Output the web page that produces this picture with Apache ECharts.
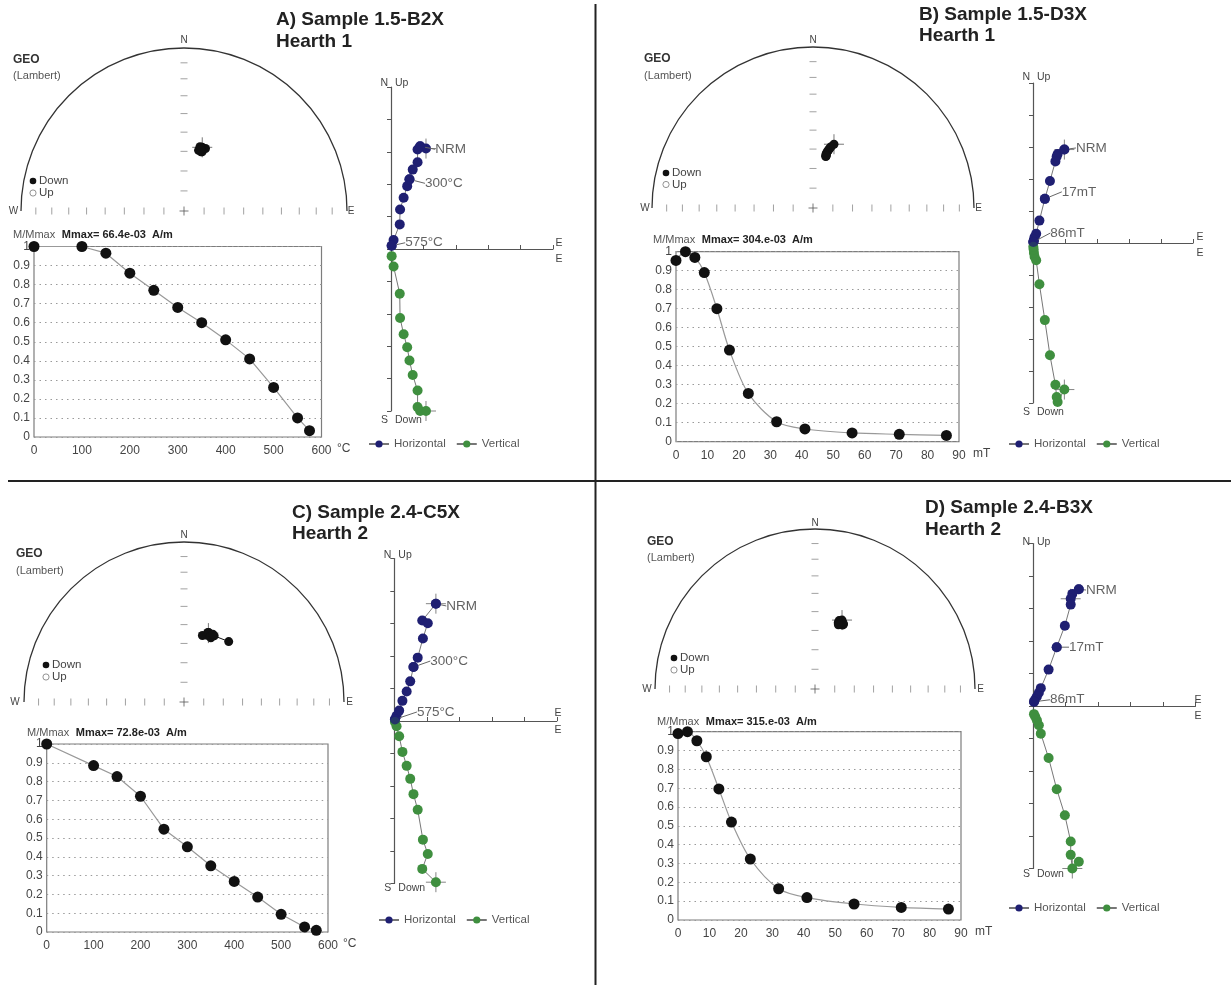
<!DOCTYPE html>
<html><head><meta charset="utf-8">
<script src="https://cdn.jsdelivr.net/npm/echarts@6/dist/echarts.min.js"></script>
<style>html,body{margin:0;padding:0;background:#fff}#c{width:1231px;height:985px}</style>
</head><body><div id="c"></div>
<script>
// ---------------- DATA ----------------
// Panel A: Sample 1.5-B2X (thermal)
const A_STEPS = [0,100,150,200,250,300,350,400,450,500,550,575];
const A_MMAX  = [1.0,1.0,0.965,0.86,0.77,0.68,0.60,0.51,0.41,0.26,0.10,0.033];
const A_EAST  = [0.90,1.08,0.82,0.82,0.67,0.57,0.50,0.39,0.28,0.27,0.08,0.02];
const A_NORTH = [3.17,3.10,3.07,2.68,2.45,2.15,1.94,1.58,1.22,0.76,0.28,0.10];
const A_UP    = [-5.0,-5.0,-4.88,-4.37,-3.89,-3.44,-3.03,-2.63,-2.13,-1.38,-0.54,-0.22];
const A_DEC   = [16,19,15,17,15.5,15,14,14,13.5,17,16,15];
const A_INC   = [56.6,56.7,56.9,57.4,57,57.2,56.6,58.2,58.6,58.8,59,58];
const A_LABELS = ['NRM','300°C','575°C'];
const A_LABEL_STEPS = [0,300,575];
const A_MMAX_TEXT = 'Mmax= 66.4e-03  A/m';

// Panel B: Sample 1.5-D3X (AF)
const B_STEPS = [0,3,6,9,13,17,23,32,41,56,71,86];
const B_MMAX  = [0.954,1.0,0.97,0.89,0.70,0.482,0.254,0.105,0.067,0.046,0.039,0.033];
const B_EAST  = [0.98,0.77,0.74,0.70,0.53,0.37,0.20,0.10,0.05,0.03,0.02,0.01];
const B_NORTH = [2.92,2.78,2.70,2.55,1.94,1.38,0.70,0.29,0.19,0.10,0.05,0.03];
const B_UP    = [-4.58,-4.97,-4.81,-4.43,-3.51,-2.41,-1.29,-0.54,-0.43,-0.31,-0.20,-0.12];
const B_DEC   = [18.2,16.4,15.8,15.2,14.8,14.3,14,13.6,13.8,13.9,14,14.2];
const B_INC   = [55.7,57.4,58.2,59,59.8,60.4,61,61.7,62.2,63.1,62.5,62.8];
const B_LABELS = ['NRM','17mT','86mT'];
const B_LABEL_STEPS = [0,17,86];
const B_MMAX_TEXT = 'Mmax= 304.e-03  A/m';

// Panel C: Sample 2.4-C5X (thermal)
const C_STEPS = [0,100,150,200,250,300,350,400,450,500,550,575];
const C_MMAX  = [1.0,0.885,0.827,0.722,0.547,0.453,0.352,0.269,0.186,0.094,0.027,0.009];
const C_EAST  = [1.28,0.86,1.03,0.88,0.72,0.59,0.49,0.38,0.25,0.15,0.07,0.02];
const C_NORTH = [3.61,3.09,3.01,2.54,1.95,1.66,1.22,0.91,0.62,0.32,0.16,0.05];
const C_UP    = [-4.96,-4.55,-4.09,-3.65,-2.73,-2.25,-1.78,-1.38,-0.95,-0.47,-0.16,-0.03];
const C_DEC   = [19.5,15.5,18.9,19.1,20.3,19.6,21.9,22.7,22,24.5,23,36.5];
const C_INC   = [52.3,54.5,52.1,53.6,52.7,52,53.6,54.2,53.5,52.5,52,51.2];
const C_LABELS = ['NRM','300°C','575°C'];
const C_LABEL_STEPS = [0,300,575];
const C_MMAX_TEXT = 'Mmax= 72.8e-03  A/m';

// Panel D: Sample 2.4-B3X (AF)
const D_STEPS = [0,3,6,9,13,17,23,32,41,56,71,86];
const D_MMAX  = [0.99,1.0,0.952,0.867,0.696,0.52,0.324,0.166,0.119,0.085,0.067,0.058];
const D_EAST  = [1.41,1.21,1.16,1.16,0.98,0.73,0.48,0.24,0.18,0.12,0.07,0.03];
const D_NORTH = [3.59,3.45,3.30,3.12,2.47,1.81,1.12,0.55,0.41,0.29,0.21,0.13];
const D_UP    = [-4.79,-5.0,-4.58,-4.17,-3.36,-2.56,-1.60,-0.85,-0.59,-0.44,-0.33,-0.25];
const D_DEC   = [21.4,19.3,19.4,20.4,21.6,22,23.2,23.6,23.7,22.5,21,20];
const D_INC   = [51.8,53.8,52.6,52.4,52.6,52.7,53.2,54,53.5,54.2,54.5,54.8];
const D_LABELS = ['NRM','17mT','86mT'];
const D_LABEL_STEPS = [0,17,86];
const D_MMAX_TEXT = 'Mmax= 315.e-03  A/m';

// stereonet tick inclinations (equal-area graticule marks)
const TICK_INC = [10,20,30,40,50,60,70,80];

// ---------------- LAYOUT ----------------
const FONT = '"Liberation Sans", Arial, Helvetica, sans-serif';
const NAVY = '#1f1f72', GREEN = '#3f8f3f';
const PLUS = 'path://M0,10L20,10M10,0L10,20';

const LAYOUT = [
 { title:'A) Sample 1.5-B2X', sub:'Hearth 1', tx:276, ty:20, sy:42,
   geo:[13,60,76], du:[33,181,193], st:[184,211,163], nL:[184,40], wL:[13.5,211], eL:[351,211],
   zj:[391,249,32.4], zjN:83, zjS:420, zjE:[559,243,259], leg:[363,433],
   ann:[[5,3],[5.5,4],[3.5,-3]], crossH:1, crossV:1,
   dm:[34,246.5,287.5,190.5], dmT:[13,235], unitPos:[337,449], unit:'°C', xmax:600, xint:100, smooth:false },
 { title:'B) Sample 1.5-D3X', sub:'Hearth 1', tx:919, ty:15, sy:36,
   geo:[644,59,76], du:[666,173,184.5], st:[813,208,161], nL:[813,40], wL:[645,208], eL:[978.5,208],
   zj:[1033,243,32], zjN:77, zjS:412, zjE:[1200,237,253], leg:[1003,433],
   ann:[[1.6,-1.6],[7,-7],[7,-9]], crossH:0, crossV:0,
   dm:[676,251.7,283,190], dmT:[653,240], unitPos:[973,454], unit:'mT', xmax:90, xint:10, smooth:0.3 },
 { title:'C) Sample 2.4-C5X', sub:'Hearth 2', tx:292, ty:513, sy:534,
   geo:[16,554,571], du:[46,665,677], st:[184,702,160], nL:[184,535], wL:[15,702], eL:[349.5,702],
   zj:[394.3,721,32.5], zjN:555, zjS:888, zjE:[558,713,730], leg:[373,909],
   ann:[[0.4,2.3],[6.8,-6],[12,-7.4]], crossH:0, crossV:0,
   dm:[46.7,744,281.3,188], dmT:[27,733], unitPos:[343,944], unit:'°C', xmax:600, xint:100, smooth:false },
 { title:'D) Sample 2.4-B3X', sub:'Hearth 2', tx:925, ty:508, sy:530,
   geo:[647,542,558], du:[674,658,670], st:[815,689,160], nL:[815,523], wL:[647,689], eL:[980.5,689],
   zj:[1033,706,32.5], zjN:542, zjS:874, zjE:[1198,700,716], leg:[1003,897],
   ann:[[-2.8,0.7],[2.3,0],[6,-2]], crossH:2, crossV:1,
   dm:[678,731.7,283,188.3], dmT:[657,721.7], unitPos:[975,932], unit:'mT', xmax:90, xint:10, smooth:0.3 }
];

const PANELS = [
 {steps:A_STEPS, mmax:A_MMAX, east:A_EAST, north:A_NORTH, up:A_UP, dec:A_DEC, inc:A_INC, lbl:A_LABELS, lblSteps:A_LABEL_STEPS, mtext:A_MMAX_TEXT},
 {steps:B_STEPS, mmax:B_MMAX, east:B_EAST, north:B_NORTH, up:B_UP, dec:B_DEC, inc:B_INC, lbl:B_LABELS, lblSteps:B_LABEL_STEPS, mtext:B_MMAX_TEXT},
 {steps:C_STEPS, mmax:C_MMAX, east:C_EAST, north:C_NORTH, up:C_UP, dec:C_DEC, inc:C_INC, lbl:C_LABELS, lblSteps:C_LABEL_STEPS, mtext:C_MMAX_TEXT},
 {steps:D_STEPS, mmax:D_MMAX, east:D_EAST, north:D_NORTH, up:D_UP, dec:D_DEC, inc:D_INC, lbl:D_LABELS, lblSteps:D_LABEL_STEPS, mtext:D_MMAX_TEXT}
];

function eqArea(inc){ return Math.SQRT2*Math.sin((90-Math.abs(inc))/2*Math.PI/180); }
function decAngle(d){ return d>180 ? d-360 : d; }
function T(x,y,text,size,o){
  o = o||{};
  return {type:'text', x:x, y:y, silent:true, z:10,
    style:Object.assign({text:text, fill:o.fill||'#333',
      font:(o.weight||'normal')+' '+size+'px '+FONT,
      align:o.align||'left', verticalAlign:'middle'}, o.style||{})};
}

const option = {animation:false, backgroundColor:'#fff',
  polar:[], angleAxis:[], radiusAxis:[], grid:[], xAxis:[], yAxis:[], legend:[], series:[],
  graphic:{elements:[]}};
const G = option.graphic.elements;

// frame dividers
G.push({type:'line', silent:true, shape:{x1:595.5,y1:4,x2:595.5,y2:985}, style:{stroke:'#222',lineWidth:2}});
G.push({type:'line', silent:true, shape:{x1:8,y1:481,x2:1231,y2:481}, style:{stroke:'#222',lineWidth:2}});

PANELS.forEach(function(P,i){
  const L = LAYOUT[i];
  // titles
  G.push(T(L.tx, L.ty, L.title, 19, {weight:'bold', fill:'#222'}));
  G.push(T(L.tx, L.sy, L.sub, 19, {weight:'bold', fill:'#222'}));
  // stereonet texts
  G.push(T(L.geo[0], L.geo[1], 'GEO', 12, {weight:'bold', fill:'#333'}));
  G.push(T(L.geo[0], L.geo[2], '(Lambert)', 11, {fill:'#555'}));
  G.push({type:'circle', silent:true, shape:{cx:L.du[0], cy:L.du[1], r:3.3}, style:{fill:'#111'}});
  G.push({type:'circle', silent:true, shape:{cx:L.du[0], cy:L.du[2], r:3.1}, style:{fill:'#fff', stroke:'#777', lineWidth:0.8}});
  G.push(T(L.du[0]+6, L.du[1], 'Down', 11.5, {fill:'#444'}));
  G.push(T(L.du[0]+6, L.du[2], 'Up', 11.5, {fill:'#444'}));
  G.push(T(L.nL[0], L.nL[1], 'N', 10, {align:'center', fill:'#444'}));
  G.push(T(L.wL[0], L.wL[1], 'W', 10, {align:'center', fill:'#444'}));
  G.push(T(L.eL[0], L.eL[1], 'E', 10, {align:'center', fill:'#444'}));

  // ---- stereonet (polar, equal-area) ----
  option.polar.push({center:[L.st[0], L.st[1]], radius:L.st[2]});
  option.angleAxis.push({polarIndex:i, type:'value', min:-90, max:90, startAngle:180, endAngle:0, clockwise:true,
    axisLine:{show:true, lineStyle:{color:'#333', width:1.3}}, axisTick:{show:false}, axisLabel:{show:false},
    splitLine:{show:false}, splitArea:{show:false}});
  option.radiusAxis.push({polarIndex:i, type:'value', min:0, max:1,
    axisLine:{show:false}, axisTick:{show:false}, axisLabel:{show:false}, splitLine:{show:false}, splitArea:{show:false}});
  option.series.push({type:'scatter', coordinateSystem:'polar', polarIndex:i, silent:true, symbol:'rect', symbolSize:[7,1],
    itemStyle:{color:'#8a8a8a'}, data:TICK_INC.map(function(v){return [eqArea(v),0];})});
  option.series.push({type:'scatter', coordinateSystem:'polar', polarIndex:i, silent:true, symbol:'rect', symbolSize:[1,7],
    itemStyle:{color:'#8a8a8a'}, data:TICK_INC.reduce(function(a,v){a.push([eqArea(v),-90]); a.push([eqArea(v),90]); return a;},[])});
  option.series.push({type:'scatter', coordinateSystem:'polar', polarIndex:i, silent:true, symbol:PLUS, symbolSize:9,
    itemStyle:{color:'none', borderColor:'#555', borderWidth:1}, data:[[0,0]]});
  option.series.push({type:'scatter', coordinateSystem:'polar', polarIndex:i, silent:true, symbol:PLUS, symbolSize:20, z:1,
    itemStyle:{color:'none', borderColor:'#555', borderWidth:1}, data:[[eqArea(P.inc[0]), decAngle(P.dec[0])]]});
  option.series.push({type:'line', coordinateSystem:'polar', polarIndex:i, silent:true, symbol:'circle', symbolSize:9, z:3,
    itemStyle:{color:'#111'}, lineStyle:{color:'#111', width:1},
    data:P.dec.map(function(d,k){return [eqArea(P.inc[k]), decAngle(d)];})});

  // ---- Zijderveld ----
  const u = L.zj[2];
  const gz = option.grid.length;
  option.grid.push({left:L.zj[0], top:L.zj[1]-5*u, width:5*u, height:10*u});
  option.xAxis.push({gridIndex:gz, type:'value', min:0, max:5, interval:1,
    axisLine:{onZero:true, lineStyle:{color:'#555', width:1.2}},
    axisTick:{show:true, inside:true, length:4, lineStyle:{color:'#555'}},
    axisLabel:{show:false}, splitLine:{show:false}});
  option.yAxis.push({gridIndex:gz, type:'value', min:-5, max:5, interval:1,
    axisLine:{onZero:true, lineStyle:{color:'#555', width:1.2}},
    axisTick:{show:true, length:4, lineStyle:{color:'#555'}},
    axisLabel:{show:false}, splitLine:{show:false}});
  const hz = P.east.map(function(e,k){return [e, P.north[k]];});
  const vt = P.east.map(function(e,k){return [e, P.up[k]];});
  option.series.push({type:'scatter', xAxisIndex:gz, yAxisIndex:gz, silent:true, symbol:PLUS, symbolSize:20, z:1,
    itemStyle:{color:'none', borderColor:'#666', borderWidth:1}, data:[hz[L.crossH], vt[L.crossV]]});
  option.series.push({name:'Horizontal', type:'line', xAxisIndex:gz, yAxisIndex:gz, silent:true, clip:false, z:3,
    symbol:'circle', symbolSize:10, itemStyle:{color:NAVY}, lineStyle:{color:'#777', width:1}, data:hz});
  option.series.push({name:'Vertical', type:'line', xAxisIndex:gz, yAxisIndex:gz, silent:true, clip:false, z:3,
    symbol:'circle', symbolSize:10, itemStyle:{color:GREEN}, lineStyle:{color:'#777', width:1}, data:vt});
  const ann = P.lblSteps.map(function(s,j){return {value:hz[P.steps.indexOf(s)], name:P.lbl[j]};});
  option.series.push({name:'ann'+i, type:'scatter', xAxisIndex:gz, yAxisIndex:gz, silent:true, z:4,
    symbol:'circle', symbolSize:10, itemStyle:{color:NAVY}, data:ann,
    label:{show:true, position:'right', distance:5, formatter:'{b}', fontSize:13.5, color:'#3a3a3a', fontFamily:FONT},
    labelLine:{show:true, lineStyle:{color:'#666', width:1}},
    labelLayout:function(p){ const o=L.ann[p.dataIndex]; return {dx:o[0], dy:o[1]}; }});
  option.legend.push({left:L.leg[0], top:L.leg[1], orient:'horizontal', itemWidth:20, itemHeight:9, itemGap:10,
    selectedMode:false, textStyle:{fontSize:11.5, color:'#555', fontFamily:FONT}, data:['Horizontal','Vertical']});
  const ox = L.zj[0];
  G.push(T(ox-3, L.zjN, 'N', 10.5, {align:'right', fill:'#444'}));
  G.push(T(ox+4, L.zjN, 'Up', 10.5, {fill:'#444'}));
  G.push(T(ox-3, L.zjS, 'S', 10.5, {align:'right', fill:'#444'}));
  G.push(T(ox+4, L.zjS, 'Down', 10.5, {fill:'#444'}));
  G.push(T(L.zjE[0], L.zjE[1], 'E', 10.5, {align:'center', fill:'#444'}));
  G.push(T(L.zjE[0], L.zjE[2], 'E', 10.5, {align:'center', fill:'#444'}));

  // ---- demagnetisation curve ----
  const gd = option.grid.length;
  option.grid.push({left:L.dm[0], top:L.dm[1], width:L.dm[2], height:L.dm[3], show:true,
    borderColor:'#7d7d7d', borderWidth:1.2, backgroundColor:'transparent'});
  option.xAxis.push({gridIndex:gd, type:'value', min:0, max:L.xmax, interval:L.xint,
    axisLine:{show:false}, axisTick:{show:false},
    axisLabel:{color:'#444', fontSize:12, margin:8, fontFamily:FONT}, splitLine:{show:false}});
  option.yAxis.push({gridIndex:gd, type:'value', min:0, max:1, interval:0.1,
    axisLine:{show:false}, axisTick:{show:false},
    axisLabel:{color:'#444', fontSize:12, margin:4, fontFamily:FONT},
    splitLine:{show:true, lineStyle:{color:'#9a9a9a', type:[1.5,4], width:1}}});
  option.series.push({type:'line', xAxisIndex:gd, yAxisIndex:gd, silent:true, clip:false, z:3,
    symbol:'circle', symbolSize:11, itemStyle:{color:'#111'}, lineStyle:{color:'#999', width:1.2},
    smooth:L.smooth, data:P.steps.map(function(s,k){return [s, P.mmax[k]];})});
  G.push({type:'text', x:L.dmT[0], y:L.dmT[1], silent:true, z:10,
    style:{text:'{a|M/Mmax}  {b|'+P.mtext+'}', verticalAlign:'middle', align:'left',
      rich:{a:{font:'normal 11px '+FONT, fill:'#555'}, b:{font:'bold 11px '+FONT, fill:'#222'}}}});
  G.push(T(L.unitPos[0], L.unitPos[1], L.unit, 12, {fill:'#444'}));
});

const chart = echarts.init(document.getElementById('c'), null, {renderer:'canvas', width:1231, height:985});
chart.setOption(option);
</script></body></html>
